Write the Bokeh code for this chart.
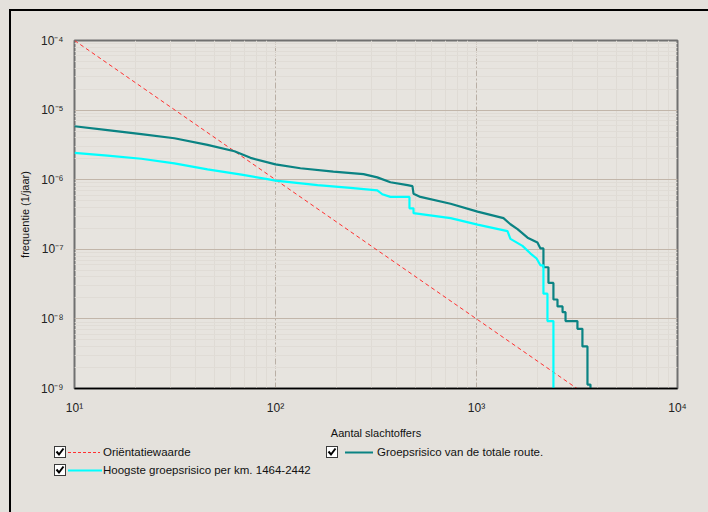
from bokeh.plotting import figure
from bokeh.layouts import column
from bokeh.models import FixedTicker, CustomJSTickFormatter, Div
from bokeh.embed import file_html
from bokeh.resources import INLINE

# ---------------- data ----------------
X_TICKS = [10, 100, 1000, 10000]
Y_TICKS = [1e-9, 1e-8, 1e-7, 1e-6, 1e-5, 1e-4]

ORIENT_N = [10, 3162.3]
ORIENT_F = [1e-4, 1e-9]

# FN-curve outline of the total route (vertices)
TEAL_N = [10, 14.6, 21.5, 31.4, 45.9, 62.5, 75.1, 100,
          133, 194, 274, 321, 373, 454, 480, 486, 526,
          743, 1012, 1362, 1475, 1600, 1795, 2010, 2080,
          2153, 2153, 2280, 2280, 2414, 2414, 2529, 2529, 2680, 2680,
          2773, 2773, 3178, 3178, 3365, 3365, 3565, 3565, 3690, 3690]
TEAL_F = [5.86e-6, 5.15e-6, 4.53e-6, 3.94e-6, 3.17e-6, 2.56e-6, 2.06e-6, 1.66e-6,
          1.46e-6, 1.31e-6, 1.20e-6, 1.08e-6, 9.19e-7, 8.34e-7, 8.1e-7, 6.30e-7, 5.66e-7,
          4.51e-7, 3.48e-7, 2.80e-7, 2.29e-7, 1.95e-7, 1.47e-7, 1.25e-7, 1.03e-7,
          1.03e-7, 5.52e-8, 5.52e-8, 3.29e-8, 3.29e-8, 1.90e-8, 1.90e-8, 1.51e-8, 1.51e-8, 1.25e-8,
          1.25e-8, 9.31e-9, 9.31e-9, 7.19e-9, 7.19e-9, 4.02e-9, 4.02e-9, 1.14e-9, 1.14e-9, 1e-10]

# FN-curve outline of the highest risk per km (1464-2442)
CYAN_N = [10, 14.6, 21.5, 31.4, 45.9, 67.7, 91.2, 100,
          162, 236, 321, 340, 373, 464, 464, 486, 486,
          743, 1012, 1426, 1475, 1693, 1857, 1990, 2080,
          2153, 2153, 2254, 2254, 2414, 2414]
CYAN_F = [2.43e-6, 2.22e-6, 2.00e-6, 1.72e-6, 1.41e-6, 1.18e-6, 1.02e-6, 9.70e-7,
          8.34e-7, 7.64e-7, 7.03e-7, 6.18e-7, 5.66e-7, 5.66e-7, 3.88e-7, 3.88e-7, 3.30e-7,
          2.80e-7, 2.26e-7, 1.82e-7, 1.41e-7, 1.12e-7, 8.68e-8, 7.38e-8, 5.89e-8,
          5.89e-8, 2.30e-8, 2.30e-8, 9.31e-9, 9.31e-9, 1e-10]

LEGEND_LABELS = ["Oriëntatiewaarde", "Groepsrisico van de totale route.",
                 "Hoogste groepsrisico per km. 1464-2442"]

# ---------------- style ----------------
BG = "#e4e1dc"
PLOT_BG = "#e7e4df"
FONT = "Liberation Sans"
TEAL = "#0a8383"
CYAN = "#00ffff"
RED = "#ff3030"

p = figure(width=697, height=430, x_axis_type="log", y_axis_type="log",
           x_range=(10, 10000), y_range=(1e-9, 1e-4),
           output_backend="svg", toolbar_location=None,
           min_border_left=63, min_border_right=31, min_border_top=29, min_border_bottom=45,
           background_fill_color=PLOT_BG, border_fill_color=BG,
           outline_line_color="#707070", outline_line_width=2)

minor_x = [m * 10 ** e for e in range(1, 4) for m in range(2, 10)]
minor_y = [m * 10.0 ** e for e in range(-9, -4) for m in range(2, 10)]
p.xaxis.ticker = FixedTicker(ticks=X_TICKS, minor_ticks=minor_x)
p.yaxis.ticker = FixedTicker(ticks=Y_TICKS, minor_ticks=minor_y)

fmt_code = """
const sup = {'-':'\u207b','0':'\u2070','1':'\u00b9','2':'\u00b2','3':'\u00b3','4':'\u2074',
             '5':'\u2075','6':'\u2076','7':'\u2077','8':'\u2078','9':'\u2079'};
const e = Math.round(Math.log10(tick));
return '10' + String(e).split('').map(c => sup[c]).join('');
"""
p.xaxis.formatter = CustomJSTickFormatter(code=fmt_code)
p.yaxis.formatter = CustomJSTickFormatter(code=fmt_code)

for ax in (p.xaxis, p.yaxis):
    ax.major_tick_line_color = None
    ax.minor_tick_line_color = None
    ax.major_label_text_font = FONT
    ax.major_label_text_font_size = "12px"
    ax.major_label_text_color = "#222222"
    ax.axis_label_text_font = FONT
    ax.axis_label_text_font_size = "11px"
    ax.axis_label_text_font_style = "normal"
    ax.axis_label_text_color = "#111111"

p.xaxis.axis_line_color = "black"
p.xaxis.axis_line_width = 1.5
p.yaxis.axis_line_color = None
p.xaxis.major_label_standoff = 6
p.yaxis.major_label_standoff = 5
p.xaxis.axis_label = "Aantal slachtoffers"
p.yaxis.axis_label = "frequentie (1/jaar)"
p.xaxis.axis_label_standoff = 9
p.yaxis.axis_label_standoff = 7

p.xgrid.ticker = FixedTicker(ticks=[100, 1000], minor_ticks=minor_x)
p.xgrid.grid_line_color = "#b9afa5"
p.xgrid.grid_line_dash = "6 2 2 2"
p.xgrid.minor_grid_line_color = "#dfdbd5"
p.ygrid.grid_line_color = "#c2b6aa"
p.ygrid.minor_grid_line_color = "#e0dcd6"

p.line(ORIENT_N, ORIENT_F, line_color=RED, line_dash="4 3", line_width=1)
p.line(TEAL_N, TEAL_F, line_color=TEAL, line_width=2.2)
p.line(CYAN_N, CYAN_F, line_color=CYAN, line_width=2.2)

# ---------------- legend strip (HTML) ----------------
def item(left, top, label, color, dash, lw, x0, x1, text_left):
    dash_css = f"stroke-dasharray:{dash};" if dash else ""
    return (
        f'<div style="position:absolute;left:{left}px;top:{top}px;height:13px;white-space:nowrap;">'
        f'<svg width="{text_left}" height="13" style="position:absolute;left:0;top:0;">'
        f'<rect x="0.5" y="0.5" width="11" height="11" style="fill:#ffffff;stroke:#3a3a3a;stroke-width:1;"/>'
        f'<polyline points="2.5,5.5 5,8.5 9.5,2.5" style="fill:none;stroke:#000000;stroke-width:2;"/>'
        f'<line x1="{x0}" y1="6.5" x2="{x1}" y2="6.5" style="stroke:{color};stroke-width:{lw};{dash_css}"/>'
        f'</svg>'
        f'<span style="position:absolute;left:{text_left}px;top:0px;line-height:13px;">{label}</span>'
        f'</div>'
    )

html = (
    f'<div style="position:relative;width:697px;height:71px;font-family:\'{FONT}\';'
    f'font-size:11.5px;color:#111;">'
    + item(38, 0, LEGEND_LABELS[0], RED, "3 2", 1.2, 14, 46, 49)
    + item(310, 0, LEGEND_LABELS[1], TEAL, None, 2, 19, 47, 51)
    + item(38, 18, LEGEND_LABELS[2], CYAN, None, 2, 14, 48, 49)
    + '</div>'
)
leg = Div(text=html, width=697, height=71, styles={"background-color": BG})

inner = column(p, leg, spacing=0,
               styles={"border-top": "2px solid black", "border-left": "2px solid black"})
outer = column(inner, styles={"background-color": BG, "padding-left": "9px", "padding-top": "9px",
                              "width": "708px", "height": "512px", "box-sizing": "border-box"})

open("out.html", "w").write(file_html(outer, INLINE))
